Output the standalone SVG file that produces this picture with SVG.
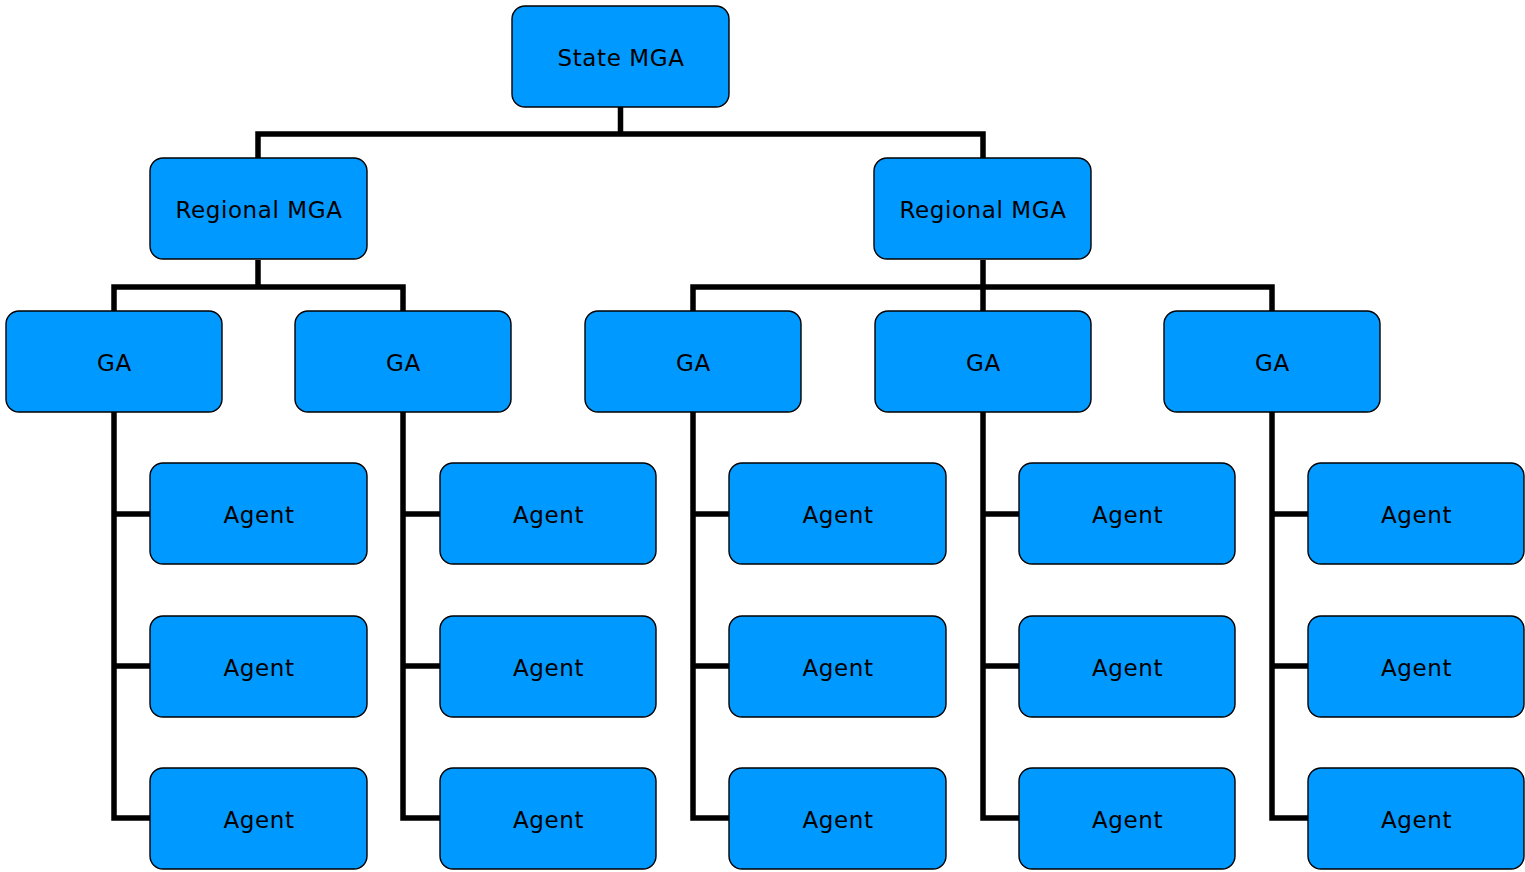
<svg xmlns="http://www.w3.org/2000/svg" width="1525" height="872" viewBox="0 0 1525 872">
<style>
.n rect{fill:#0099ff;stroke:#000;stroke-width:1.4}
.n text{font-family:"DejaVu Sans",Verdana,sans-serif;font-size:23px;letter-spacing:0.6px;fill:#000;text-anchor:middle;dominant-baseline:central}
.c path{fill:none;stroke:#000;stroke-width:5.5;stroke-linejoin:miter;stroke-linecap:butt}
</style>
<rect width="1525" height="872" fill="#fff"/>
<g class="c" id="connectors">
<path d="M620.5 107V134M258 134H983M258 131.25V158M983 131.25V158"/>
<path d="M258 260V287M114 287H403M114 284.25V311M403 284.25V311"/>
<path d="M983 260V287M693 287H1272M693 284.25V311M983 284.25V311M1272 284.25V311"/>
<path d="M114 412V818H150M114 514H150M114 666H150"/>
<path d="M403 412V818H440M403 514H440M403 666H440"/>
<path d="M693 412V818H729M693 514H729M693 666H729"/>
<path d="M983 412V818H1019M983 514H1019M983 666H1019"/>
<path d="M1272 412V818H1308M1272 514H1308M1272 666H1308"/>
</g>
<g class="n" id="state"><rect x="512" y="6" width="217" height="101" rx="13"/><text x="621" y="57.5">State MGA</text></g>
<g class="n" id="reg1"><rect x="150" y="158" width="217" height="101" rx="13"/><text x="259" y="209.5">Regional MGA</text></g>
<g class="n" id="reg2"><rect x="874" y="158" width="217" height="101" rx="13"/><text x="983" y="209.5">Regional MGA</text></g>
<g class="n" id="ga1"><rect x="6" y="311" width="216" height="101" rx="13"/><text x="114.5" y="362.5">GA</text></g>
<g class="n" id="ga2"><rect x="295" y="311" width="216" height="101" rx="13"/><text x="403.5" y="362.5">GA</text></g>
<g class="n" id="ga3"><rect x="585" y="311" width="216" height="101" rx="13"/><text x="693.5" y="362.5">GA</text></g>
<g class="n" id="ga4"><rect x="875" y="311" width="216" height="101" rx="13"/><text x="983.5" y="362.5">GA</text></g>
<g class="n" id="ga5"><rect x="1164" y="311" width="216" height="101" rx="13"/><text x="1272.5" y="362.5">GA</text></g>
<g class="n" id="a11"><rect x="150" y="463" width="217" height="101" rx="13"/><text x="259" y="514.5">Agent</text></g>
<g class="n" id="a12"><rect x="150" y="616" width="217" height="101" rx="13"/><text x="259" y="667.5">Agent</text></g>
<g class="n" id="a13"><rect x="150" y="768" width="217" height="101" rx="13"/><text x="259" y="819.5">Agent</text></g>
<g class="n" id="a21"><rect x="440" y="463" width="216" height="101" rx="13"/><text x="548.5" y="514.5">Agent</text></g>
<g class="n" id="a22"><rect x="440" y="616" width="216" height="101" rx="13"/><text x="548.5" y="667.5">Agent</text></g>
<g class="n" id="a23"><rect x="440" y="768" width="216" height="101" rx="13"/><text x="548.5" y="819.5">Agent</text></g>
<g class="n" id="a31"><rect x="729" y="463" width="217" height="101" rx="13"/><text x="838" y="514.5">Agent</text></g>
<g class="n" id="a32"><rect x="729" y="616" width="217" height="101" rx="13"/><text x="838" y="667.5">Agent</text></g>
<g class="n" id="a33"><rect x="729" y="768" width="217" height="101" rx="13"/><text x="838" y="819.5">Agent</text></g>
<g class="n" id="a41"><rect x="1019" y="463" width="216" height="101" rx="13"/><text x="1127.5" y="514.5">Agent</text></g>
<g class="n" id="a42"><rect x="1019" y="616" width="216" height="101" rx="13"/><text x="1127.5" y="667.5">Agent</text></g>
<g class="n" id="a43"><rect x="1019" y="768" width="216" height="101" rx="13"/><text x="1127.5" y="819.5">Agent</text></g>
<g class="n" id="a51"><rect x="1308" y="463" width="216" height="101" rx="13"/><text x="1416.5" y="514.5">Agent</text></g>
<g class="n" id="a52"><rect x="1308" y="616" width="216" height="101" rx="13"/><text x="1416.5" y="667.5">Agent</text></g>
<g class="n" id="a53"><rect x="1308" y="768" width="216" height="101" rx="13"/><text x="1416.5" y="819.5">Agent</text></g>
</svg>
